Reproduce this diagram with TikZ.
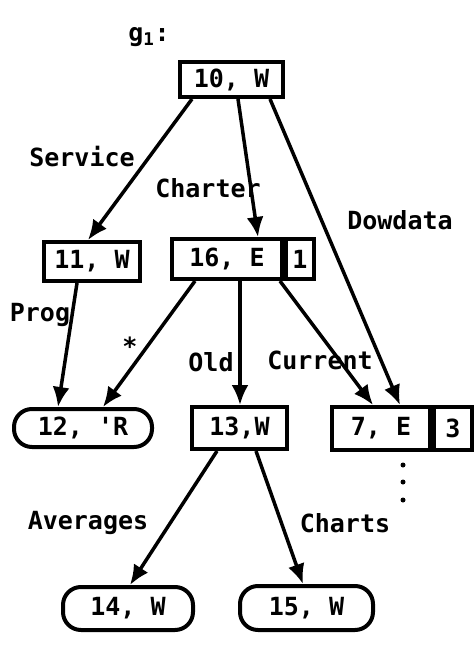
\documentclass[tikz,border=0pt]{standalone}
\usepackage{fontspec}
\setmonofont{DejaVu Sans Mono}
\usetikzlibrary{arrows.meta}

\tikzset{
  recbox/.style={draw, line width=4pt, rectangle, inner sep=0pt, font=\ttfamily\bfseries\fontsize{25}{25}\selectfont},
  endbox/.style={recbox, rounded corners=18pt},
  lbl/.style={font=\ttfamily\bfseries\fontsize{25}{25}\selectfont, inner sep=0pt},
  arc/.style={line width=3.5pt, -{Latex[length=20pt,width=17pt]}}
}

\begin{document}
\begin{tikzpicture}[x=1pt,y=-1pt]
\useasboundingbox (0,0) rectangle (475,646);
% the name of the graph
\node[lbl] (gname) at (149,37) {g\textsubscript{1}:};
% the boxes
\node[recbox, minimum width=103pt, minimum height=35pt] (n10) at (231.5,79.5) {10, W};
\node[recbox, minimum width=96pt, minimum height=39pt] (n11) at (92,261.5) {11, W};
\node[recbox, minimum width=110pt, minimum height=40pt] (n16) at (227,259) {16, E};
\node[recbox, minimum width=28pt, minimum height=40pt, anchor=west] (n16b) at (n16.east) {1};
\node[endbox, minimum width=138pt, minimum height=38pt] (n12) at (83,428) {12, 'R};
\node[recbox, minimum width=95pt, minimum height=42pt] (n13) at (239.5,428) {13,W};
\node[recbox, minimum width=98pt, minimum height=43pt] (n7) at (381,428.5) {7, E};
\node[recbox, minimum width=38pt, minimum height=43pt, anchor=west] (n7b) at (n7.east) {3};
\node[endbox, minimum width=130pt, minimum height=43pt] (n14) at (128,608.5) {14, W};
\node[endbox, minimum width=133pt, minimum height=44pt] (n15) at (306.5,608) {15, W};
% the arcs
\draw[arc] ([xshift=-39.5pt]n10.south) -- ([xshift=-4pt]n11.north);
\draw[arc] ([xshift=6.5pt]n10.south) -- ([xshift=31pt]n16.north);
\draw[arc] ([xshift=38.5pt]n10.south) -- ([xshift=19pt]n7.north);
\draw[arc] ([xshift=-15pt]n11.south) -- ([xshift=-25pt]n12.north);
\draw[arc] ([xshift=-32pt]n16.south) -- ([xshift=20pt]n12.north);
\draw[arc] ([xshift=13pt]n16.south) -- ([xshift=0.5pt]n13.north);
\draw[arc] ([xshift=53pt]n16.south) -- ([xshift=-8pt]n7.north);
\draw[arc] ([xshift=-22.5pt]n13.south) -- ([xshift=2pt]n14.north);
\draw[arc] ([xshift=16.5pt]n13.south) -- ([xshift=-3.5pt]n15.north);
% arc labels
\node[lbl] (lservice) at (82,157) {Service};
\node[lbl] (lcharter) at (208,188) {Charter};
\node[lbl] (ldowdata) at (400,220) {Dowdata};
\node[lbl] (lprog) at (40,315) {Prog};
\node[lbl] (lstar) at (130,346) {*};
\node[lbl] (lold) at (211,362) {Old};
\node[lbl] (lcurrent) at (320,360) {Current};
\node[lbl] (laverages) at (88,523) {Averages};
\node[lbl] (lcharts) at (345,523) {Charts};
% more below
\fill (403,465) circle [radius=2.5pt]
      (403,482) circle [radius=2.5pt]
      (403,500) circle [radius=2.5pt];
\end{tikzpicture}
\end{document}
